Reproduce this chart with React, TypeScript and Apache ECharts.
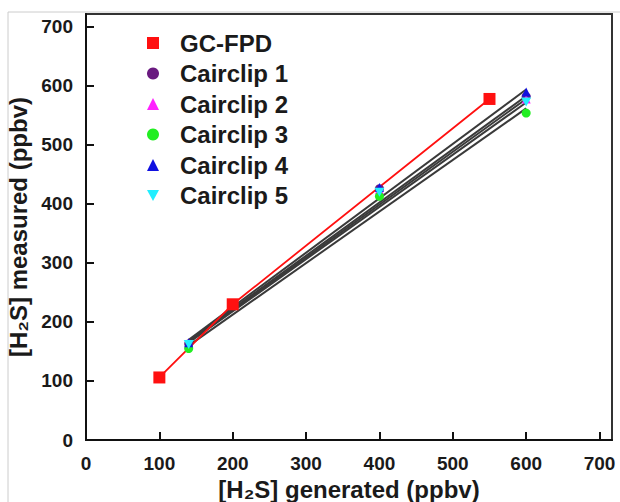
import React, { useEffect, useRef } from "react";
import * as echarts from "echarts";

const gcX = [100, 200, 550];
const gcY = [106, 230, 578];
const cairX = [140, 400, 600];
const cair1 = [163, 426, 582];
const cair2 = [162, 424, 578];
const cair3 = [155, 413, 554];
const cair4 = [165, 428, 590];
const cair5 = [162, 420, 573];
const fitStart = [168, 166, 160, 170, 165];
const fitEnd = [583, 578, 562, 594, 572];

const names = ["Cairclip 1", "Cairclip 2", "Cairclip 3", "Cairclip 4", "Cairclip 5"];
const colors = ["#6a1a80", "#ff22ff", "#22ee22", "#1010e0", "#22eeff"];
const downTri = "path://M0,0 L10,0 L5,9 Z";
const symbols = ["circle", "triangle", "circle", "triangle", downTri];
const cairData = [cair1, cair2, cair3, cair4, cair5];
const xName = "[H\u2082S] generated (ppbv)";
const yName = "[H\u2082S] measured (ppbv)";

export default function App() {
  const ref = useRef<HTMLDivElement>(null);
  useEffect(() => {
    const chart = echarts.init(ref.current!, null, { renderer: "svg" });
    const font = "'Liberation Sans', 'DejaVu Sans', Arial, sans-serif";
    const series: any[] = [];
    names.forEach((n, i) => {
      series.push({
        name: n + " fit",
        type: "line",
        data: [
          [cairX[0], fitStart[i]],
          [cairX[2], fitEnd[i]],
        ],
        symbol: "none",
        lineStyle: { color: "#3a3a3a", width: 2 },
        z: 2,
      });
    });
    series.push({
      name: "GC-FPD line",
      type: "line",
      data: gcX.map((x, i) => [x, gcY[i]]),
      symbol: "none",
      lineStyle: { color: "#ff1010", width: 1.8 },
      z: 3,
    });
    names.forEach((n, i) => {
      series.push({
        name: n,
        type: "scatter",
        data: cairX.map((x, j) => [x, cairData[i][j]]),
        symbol: symbols[i],
        symbolSize: i === 4 ? [10, 9] : 9,
        itemStyle: { color: colors[i], opacity: 1 },
        z: 4,
      });
    });
    series.push({
      name: "GC-FPD",
      type: "scatter",
      data: gcX.map((x, i) => [x, gcY[i]]),
      symbol: "rect",
      symbolSize: 12,
      itemStyle: { color: "#ff1010", opacity: 1 },
      z: 5,
    });

    const axisCommon = {
      type: "value",
      min: 0,
      interval: 100,
      nameLocation: "middle",
      splitLine: { show: false },
      axisLine: { show: true, lineStyle: { color: "#111", width: 2 } },
      axisTick: { show: true, inside: true, length: 8, lineStyle: { color: "#111", width: 2 } },
      axisLabel: {
        fontFamily: font,
        fontWeight: "bold",
        fontSize: 19,
        color: "#1a1a1a",
        showMaxLabel: false,
      },
      nameTextStyle: {
        fontFamily: font,
        fontWeight: "bold",
        fontSize: 24,
        color: "#1a1a1a",
      },
    };

    chart.setOption({
      animation: false,
      backgroundColor: "#ffffff",
      grid: {
        left: 86,
        top: 14,
        right: 8,
        bottom: 62,
        show: true,
        borderColor: "#333",
        borderWidth: 2,
        outerBoundsMode: "none",
        containLabel: false,
      },
      xAxis: {
        ...axisCommon,
        max: 717,
        name: xName,
        nameGap: 30,
        axisLabel: { ...axisCommon.axisLabel, margin: 14 },
      },
      yAxis: {
        ...axisCommon,
        max: 722,
        name: yName,
        nameGap: 54,
        axisLabel: { ...axisCommon.axisLabel, margin: 13 },
      },
      legend: {
        orient: "vertical",
        left: 142,
        top: 26,
        itemWidth: 12,
        itemHeight: 12,
        itemGap: 6.5,
        textStyle: {
          fontFamily: font,
          fontWeight: "bold",
          fontSize: 24,
          color: "#1a1a1a",
          padding: [0, 0, 0, 16],
        },
        data: [
          { name: "GC-FPD", icon: "rect" },
          { name: "Cairclip 1", icon: "circle" },
          { name: "Cairclip 2", icon: "triangle" },
          { name: "Cairclip 3", icon: "circle" },
          { name: "Cairclip 4", icon: "triangle" },
          { name: "Cairclip 5", icon: downTri },
        ],
      },
      graphic: [
        {
          type: "rect",
          shape: { x: 8, y: 12, width: 640, height: 520 },
          style: { fill: "none", stroke: "#cccccc", lineWidth: 1 },
          silent: true,
          z: -1,
        },
      ],
      series,
    });
    return () => chart.dispose();
  }, []);
  return <div ref={ref} style={{ width: 620, height: 502, position: "absolute", left: 0, top: 0 }} />;
}
